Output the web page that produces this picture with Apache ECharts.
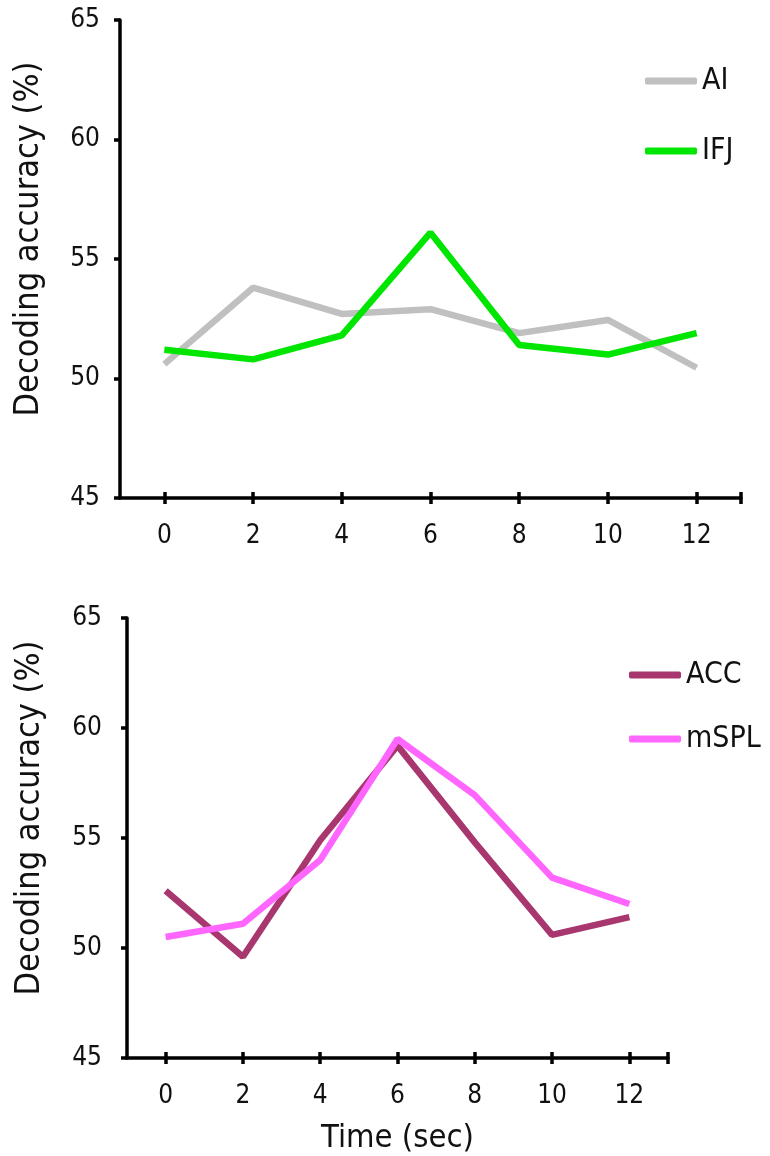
<!DOCTYPE html>
<html>
<head>
<meta charset="utf-8">
<script src="https://cdn.jsdelivr.net/npm/echarts@6/dist/echarts.min.js"></script>
<style>
  html, body { margin: 0; padding: 0; background: #fff; }
  #chart { width: 770px; height: 1156px; }
</style>
</head>
<body>
<div id="chart"></div>
<script>
const times = [0, 2, 4, 6, 8, 10, 12];
const aiValues = [50.6, 53.8, 52.7, 52.9, 51.9, 52.45, 50.45];
const ifjValues = [51.2, 50.8, 51.8, 56.1, 51.4, 51.0, 51.9];
const accValues = [52.6, 49.6, 54.9, 59.2, 54.8, 50.6, 51.4];
const msplValues = [50.5, 51.1, 54.0, 59.5, 56.95, 53.2, 52.0];
const yTicks = [45, 50, 55, 60, 65];
const xTickMarks = times.concat([13]);

const font = '"DejaVu Sans Condensed", "DejaVu Sans"';
const pairs = (values) => times.map((t, i) => [t, values[i]]);

function xAxisPair(gridIndex, withName) {
  const main = {
    type: 'value',
    gridIndex: gridIndex,
    position: 'bottom',
    min: -1,
    max: 13,
    splitLine: { show: false },
    axisLine: { onZero: false, lineStyle: { color: '#000', width: 3.5 } },
    axisTick: { customValues: xTickMarks, length: 6, lineStyle: { color: '#000', width: 3.5 } },
    axisLabel: { customValues: times, color: '#111', fontFamily: font, fontSize: 26, margin: 25 },
  };
  if (withName) {
    main.name = 'Time (sec)';
    main.nameLocation = 'middle';
    main.nameGap = 64;
    main.nameTextStyle = { color: '#111', fontFamily: font, fontSize: 32.5 };
  }
  // second axis only to draw the tick half above the line
  const inner = {
    type: 'value',
    gridIndex: gridIndex,
    position: 'bottom',
    min: -1,
    max: 13,
    splitLine: { show: false },
    axisLine: { show: false, onZero: false },
    axisTick: { inside: true, customValues: xTickMarks, length: 6, lineStyle: { color: '#000', width: 3.5 } },
    axisLabel: { show: false },
  };
  return [main, inner];
}

function yAxisFor(gridIndex, labelMargin, nameGap) {
  return {
    type: 'value',
    gridIndex: gridIndex,
    min: 45,
    max: 65,
    interval: 5,
    splitLine: { show: false },
    axisLine: { show: true, onZero: false, lineStyle: { color: '#000', width: 3.5 } },
    axisTick: { show: true, length: 6, lineStyle: { color: '#000', width: 3.5 } },
    axisLabel: { color: '#111', fontFamily: font, fontSize: 26, margin: labelMargin },
    name: 'Decoding accuracy (%)',
    nameLocation: 'middle',
    nameGap: nameGap,
    nameTextStyle: { color: '#111', fontFamily: font, fontSize: 34, padding: [0, 0, 0, 40] },
  };
}

function lineSeries(name, values, color, xIndex, yIndex) {
  return {
    name: name,
    type: 'line',
    xAxisIndex: xIndex,
    yAxisIndex: yIndex,
    data: pairs(values),
    symbol: 'none',
    lineStyle: { color: color, width: 6.5 },
    itemStyle: { color: color },
  };
}

const legendBase = {
  orient: 'vertical',
  icon: 'roundRect',
  itemWidth: 52,
  itemHeight: 7,
  textStyle: { color: '#111', fontFamily: font, fontSize: 30, padding: [4, 0, 0, 0] },
};

const chart = echarts.init(document.getElementById('chart'), null, { width: 770, height: 1156 });
chart.setOption({
  animation: false,
  backgroundColor: '#fff',
  grid: [
    { left: 120, right: 29, top: 20, bottom: 658 },
    { left: 127, right: 102, top: 618, bottom: 98 },
  ],
  xAxis: xAxisPair(0, false).concat(xAxisPair(1, true)),
  yAxis: [yAxisFor(0, 20, 74), yAxisFor(1, 25, 80)],
  legend: [
    Object.assign({}, legendBase, { data: ['AI', 'IFJ'], left: 640, top: 61, itemGap: 40 }),
    Object.assign({}, legendBase, { data: ['ACC', 'mSPL'], left: 624, top: 655, itemGap: 34 }),
  ],
  series: [
    lineSeries('AI', aiValues, '#c0c0c0', 0, 0),
    lineSeries('IFJ', ifjValues, '#00e600', 0, 0),
    lineSeries('ACC', accValues, '#a8376f', 2, 1),
    lineSeries('mSPL', msplValues, '#ff66ff', 2, 1),
  ],
});
</script>
</body>
</html>
